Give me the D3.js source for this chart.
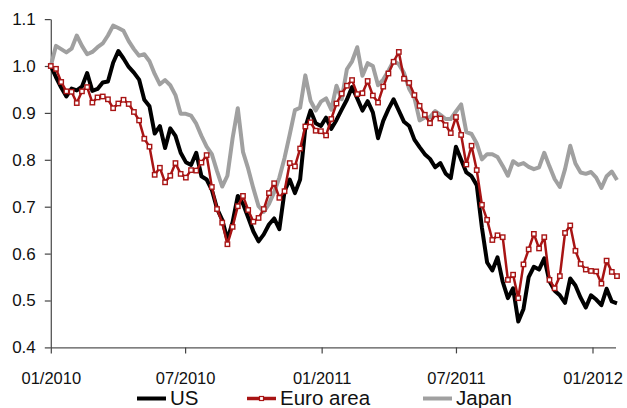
<!DOCTYPE html>
<html>
<head>
<meta charset="utf-8">
<script src="https://cdn.jsdelivr.net/npm/d3@7/dist/d3.min.js"></script>
<style>
  html, body { margin: 0; padding: 0; background: #fff; }
  svg { display: block; font-family: "Liberation Sans", Arial, sans-serif; }
</style>
</head>
<body>
<svg id="chart" width="627" height="408"></svg>
<script>
// Weekly index levels, start of 2010 = 1.0
const firstWeek = new Date(2010, 0, 1);

const usValues = [
  1.000, 0.976, 0.954, 0.935, 0.952, 0.948, 0.956, 0.985, 0.947, 0.951,
  0.965, 0.967, 1.007, 1.032, 1.016, 0.998, 0.986, 0.971, 0.928, 0.914,
  0.856, 0.872, 0.825, 0.867, 0.851, 0.815, 0.795, 0.789, 0.815, 0.765,
  0.758, 0.736, 0.696, 0.672, 0.630, 0.667, 0.723, 0.706, 0.677, 0.647,
  0.626, 0.641, 0.662, 0.675, 0.652, 0.733, 0.758, 0.729, 0.758, 0.869,
  0.905, 0.878, 0.872, 0.890, 0.866, 0.885, 0.907, 0.928, 0.955, 0.931,
  0.905, 0.925, 0.901, 0.846, 0.883, 0.908, 0.929, 0.905, 0.881, 0.872,
  0.843, 0.827, 0.812, 0.802, 0.784, 0.793, 0.771, 0.761, 0.828, 0.800,
  0.773, 0.765, 0.746, 0.655, 0.581, 0.564, 0.592, 0.540, 0.505, 0.526,
  0.455, 0.482, 0.550, 0.572, 0.566, 0.590, 0.541, 0.521, 0.511, 0.495,
  0.547, 0.532, 0.506, 0.485, 0.511, 0.502, 0.490, 0.525, 0.498, 0.494
];

const euroValues = [
  1.000, 0.994, 0.966, 0.946, 0.945, 0.921, 0.946, 0.955, 0.922, 0.933,
  0.935, 0.929, 0.910, 0.920, 0.928, 0.919, 0.902, 0.884, 0.845, 0.828,
  0.768, 0.783, 0.752, 0.766, 0.793, 0.770, 0.762, 0.778, 0.777, 0.794,
  0.810, 0.742, 0.695, 0.666, 0.620, 0.657, 0.701, 0.723, 0.693, 0.668,
  0.676, 0.695, 0.729, 0.750, 0.719, 0.733, 0.793, 0.786, 0.824, 0.871,
  0.880, 0.862, 0.861, 0.852, 0.887, 0.920, 0.941, 0.958, 0.970, 0.940,
  0.942, 0.968, 0.937, 0.922, 0.956, 0.984, 1.009, 1.030, 0.973, 0.964,
  0.938, 0.915, 0.896, 0.878, 0.897, 0.888, 0.874, 0.857, 0.891, 0.853,
  0.790, 0.830, 0.778, 0.704, 0.672, 0.629, 0.639, 0.635, 0.544, 0.555,
  0.505, 0.577, 0.609, 0.642, 0.611, 0.635, 0.544, 0.526, 0.552, 0.644,
  0.660, 0.606, 0.578, 0.566, 0.563, 0.562, 0.536, 0.585, 0.561, 0.552
];

const japanValues = [
  1.000, 1.043, 1.036, 1.029, 1.037, 1.065, 1.043, 1.025, 1.030, 1.040,
  1.048, 1.065, 1.086, 1.081, 1.075, 1.053, 1.036, 1.022, 1.025, 1.010,
  0.983, 0.961, 0.970, 0.959, 0.938, 0.898, 0.898, 0.894, 0.877, 0.851,
  0.828, 0.812, 0.776, 0.743, 0.766, 0.846, 0.910, 0.817, 0.781, 0.739,
  0.701, 0.689, 0.706, 0.731, 0.762, 0.804, 0.854, 0.906, 0.911, 0.980,
  0.926, 0.905, 0.924, 0.931, 0.907, 0.958, 0.929, 0.993, 1.010, 1.040,
  0.979, 1.006, 1.000, 0.959, 0.971, 0.990, 1.011, 1.004, 0.985, 0.951,
  0.932, 0.884, 0.890, 0.891, 0.904, 0.896, 0.887, 0.887, 0.903, 0.918,
  0.859, 0.855, 0.835, 0.801, 0.812, 0.812, 0.806, 0.787, 0.766, 0.797,
  0.789, 0.793, 0.785, 0.780, 0.784, 0.815, 0.786, 0.759, 0.742, 0.780,
  0.830, 0.792, 0.773, 0.770, 0.774, 0.762, 0.740, 0.765, 0.775, 0.757
];

const seriesNames = ["US", "Euro area", "Japan"];
const yTickValues = [0.4, 0.5, 0.6, 0.7, 0.8, 0.9, 1.0, 1.1];
const xTickDates = [new Date(2010, 0, 1), new Date(2010, 6, 1), new Date(2011, 0, 1),
                    new Date(2011, 6, 1), new Date(2012, 0, 1)];

const dates = usValues.map((_, i) => d3.timeDay.offset(firstWeek, 7 * i));

const svg = d3.select("#chart");

const x = d3.scaleTime()
  .domain([new Date(2010, 0, 1), new Date(2012, 1, 1)])
  .range([50.8, 615.5]);
const y = d3.scaleLinear()
  .domain([0.4, 1.1])
  .range([347.4, 19.1]);

// y axis
const yAxis = svg.append("g")
  .attr("transform", "translate(50.8,0)")
  .call(d3.axisLeft(y).tickValues(yTickValues).tickFormat(d3.format(".1f"))
    .tickSize(6).tickSizeOuter(0).tickPadding(9));
yAxis.select(".domain").attr("stroke", "#555").attr("stroke-width", 1.3);
yAxis.selectAll(".tick line").attr("stroke", "#444").attr("stroke-width", 1.2);
yAxis.selectAll(".tick text").attr("font-size", 17).attr("fill", "#111")
  .attr("font-family", "Liberation Sans, Arial, sans-serif");

// x axis
const xAxis = svg.append("g")
  .attr("transform", "translate(0,347.4)")
  .call(d3.axisBottom(x).tickValues(xTickDates).tickFormat(d3.timeFormat("%m/%Y"))
    .tickSize(6).tickSizeOuter(0).tickPadding(18.5));
xAxis.select(".domain").attr("stroke", "#555").attr("stroke-width", 1.3);
xAxis.selectAll(".tick line").attr("stroke", "#444").attr("stroke-width", 1.2);
xAxis.selectAll(".tick text").attr("font-size", 16.5).attr("fill", "#111")
  .attr("font-family", "Liberation Sans, Arial, sans-serif");

const line = d3.line()
  .x((d, i) => x(dates[i]))
  .y(d => y(d));

const colors = { us: "#000000", euro: "#a81414", japan: "#a0a0a0" };

svg.append("path").datum(japanValues)
  .attr("d", line).attr("fill", "none")
  .attr("stroke", colors.japan).attr("stroke-width", 4).attr("stroke-linejoin", "round");

svg.append("path").datum(usValues)
  .attr("d", line).attr("fill", "none")
  .attr("stroke", colors.us).attr("stroke-width", 4).attr("stroke-linejoin", "round");

svg.append("path").datum(euroValues)
  .attr("d", line).attr("fill", "none")
  .attr("stroke", colors.euro).attr("stroke-width", 2.5).attr("stroke-linejoin", "round");

const m = 4.4;
svg.append("g").selectAll("rect").data(euroValues).join("rect")
  .attr("x", (d, i) => x(dates[i]) - m / 2)
  .attr("y", d => y(d) - m / 2)
  .attr("width", m).attr("height", m)
  .attr("fill", "#fff").attr("stroke", colors.euro).attr("stroke-width", 1.4);

// legend
const legendItems = [
  { name: seriesNames[0], color: colors.us, width: 4, marker: false, x0: 137 },
  { name: seriesNames[1], color: colors.euro, width: 3.5, marker: true, x0: 247 },
  { name: seriesNames[2], color: colors.japan, width: 4, marker: false, x0: 423 }
];
const legend = svg.append("g");
legendItems.forEach(item => {
  const g = legend.append("g");
  g.append("line")
    .attr("x1", item.x0).attr("x2", item.x0 + 29)
    .attr("y1", 398.5).attr("y2", 398.5)
    .attr("stroke", item.color).attr("stroke-width", item.width);
  if (item.marker) {
    g.append("rect")
      .attr("x", item.x0 + 14.5 - 2).attr("y", 398.5 - 2)
      .attr("width", 4).attr("height", 4)
      .attr("fill", "#fff").attr("stroke", item.color).attr("stroke-width", 1.2);
  }
  g.append("text")
    .attr("x", item.x0 + 33).attr("y", 405)
    .attr("font-size", 20.5).attr("fill", "#111")
    .text(item.name);
});
</script>
</body>
</html>
